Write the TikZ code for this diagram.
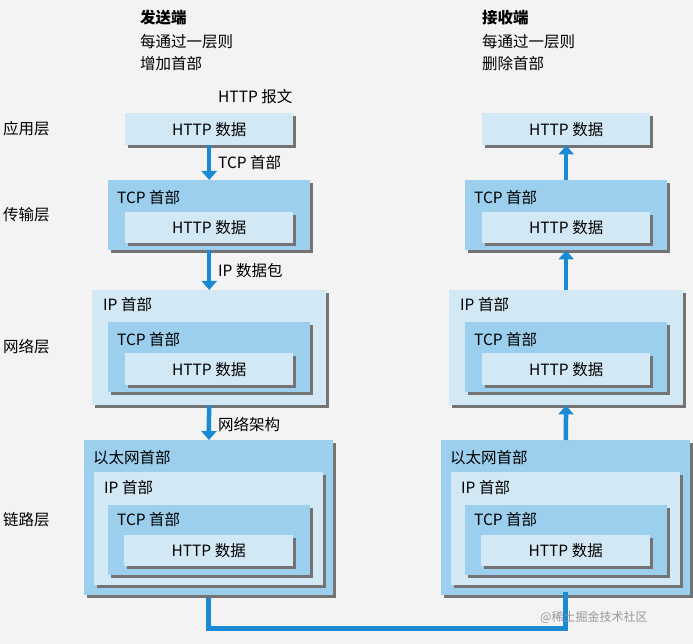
\documentclass[tikz,border=0pt]{standalone}
\usepackage{fontspec}
\setmainfont{Noto Sans CJK SC}
\usetikzlibrary{shadows,arrows.meta}
\definecolor{mid}{HTML}{9CCFEE}
\definecolor{lite}{HTML}{D3E8F5}
\definecolor{arr}{HTML}{1A8AD4}
\definecolor{bg}{HTML}{F3F3F3}
\tikzset{
  lay/.style={draw=none, inner sep=0pt, anchor=north west,
    drop shadow={shadow xshift=3pt, shadow yshift=-3pt, fill=black!55, opacity=1}},
  hdr/.style={anchor=west, inner sep=0pt, font=\fontsize{15.5}{17}\selectfont},
  dat/.style={inner sep=0pt, font=\fontsize{15.5}{17}\selectfont},
  lbl/.style={anchor=west, inner sep=0pt, font=\fontsize{15.5}{17}\selectfont},
  flow/.style={arr, line width=4.5pt, -{Triangle[length=9pt,width=15pt]}},
}
\newcommand\bx[6]{\node[lay, fill=#6, minimum width={((#4)-(#2))*1pt}, minimum height={((#5)-(#3))*1pt}] (#1) at (#2,#3) {};}
\begin{document}
\begin{tikzpicture}[x=1pt,y=-1pt]
\fill[bg] (0,0) rectangle (693,644);
\useasboundingbox (0,0) rectangle (693,644);
% headers
\node[lbl, font=\bfseries\fontsize{15.5}{17}\selectfont] (s1) at (140,18) {发送端};
\node[lbl] (s2) at (140,42) {每通过一层则};
\node[lbl] (s3) at (140,64) {增加首部};
\node[lbl, font=\bfseries\fontsize{15.5}{17}\selectfont] (r1) at (482,18) {接收端};
\node[lbl] (r2) at (482,42) {每通过一层则};
\node[lbl] (r3) at (482,64) {删除首部};
\node[lbl] (hm) at (218,97) {HTTP 报文};
% layer labels
\node[lbl] (L1) at (3,129) {应用层};
\node[lbl] (L2) at (3,215) {传输层};
\node[lbl] (L3) at (3,347) {网络层};
\node[lbl] (L4) at (3,520) {链路层};
\foreach \s/\o in {l/0,r/357}{
  % application
  \bx{\s a}{125+\o}{113}{293+\o}{145}{lite}
  \node[dat] at (\s a.center) {HTTP 数据};
  % transport
  \bx{\s t}{108+\o}{180}{310+\o}{250}{mid}
  \node[hdr] at (117+\o,198) {TCP 首部};
  \bx{\s th}{125+\o}{212}{293+\o}{243}{lite}
  \node[dat] at (\s th.center) {HTTP 数据};
  % network
  \bx{\s n}{92+\o}{290}{326+\o}{405}{lite}
  \node[hdr] at (103+\o,305) {IP 首部};
  \bx{\s nt}{108+\o}{322}{310+\o}{392}{mid}
  \node[hdr] at (117+\o,340) {TCP 首部};
  \bx{\s nh}{125+\o}{353}{293+\o}{385}{lite}
  \node[dat] at (\s nh.center) {HTTP 数据};
  % link
  \bx{\s k}{84+\o}{440}{333+\o}{595}{mid}
  \node[hdr] at (93+\o,458) {以太网首部};
  \bx{\s ki}{94+\o}{472}{323+\o}{585}{lite}
  \node[hdr] at (104+\o,488) {IP 首部};
  \bx{\s kt}{108+\o}{505}{310+\o}{575}{mid}
  \node[hdr] at (117+\o,520) {TCP 首部};
  \bx{\s kh}{124+\o}{535}{293+\o}{566}{lite}
  \node[dat] at (\s kh.center) {HTTP 数据};
}
% left down arrows
\draw[flow] (la) -- (lt);
\draw[flow] (lt) -- (ln);
\draw[flow] (ln) -- (lk);
\node[lbl] (c1) at (218,163) {TCP 首部};
\node[lbl] (c2) at (218,271) {IP 数据包};
\node[lbl] (c3) at (218,425) {网络架构};
% right up arrows
\draw[flow] (rt) -- (ra);
\draw[flow] (rn) -- (rt);
\draw[flow] (rk) -- (rn);
% bottom link
\draw[arr, line width=4.5pt] (lk.south) ++(0,3) -- ++(0,30) -| ([yshift=3pt]rk.south);
\node[lbl, text=black!40, font=\fontsize{12}{14}\selectfont] (wm) at (540,617) {@稀土掘金技术社区};
\end{tikzpicture}
\end{document}
